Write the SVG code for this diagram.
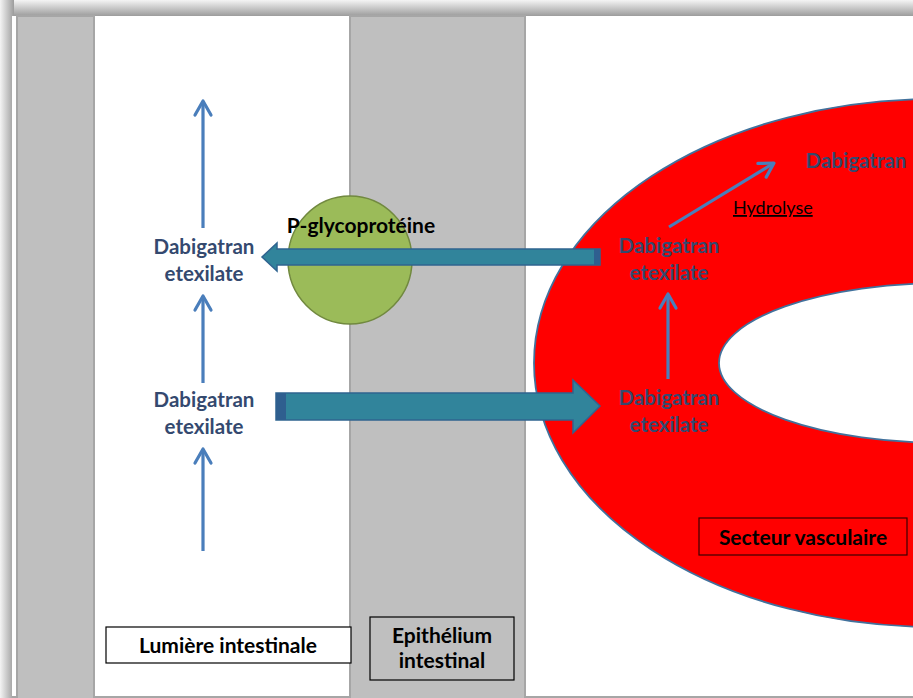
<svg xmlns="http://www.w3.org/2000/svg" width="913" height="698" viewBox="0 0 913 698">
  <defs>
    <linearGradient id="shadowTop" x1="0" y1="0" x2="0" y2="1">
      <stop offset="0" stop-color="#f4f4f4"/>
      <stop offset="1" stop-color="#9c9c9c"/>
    </linearGradient>
    <linearGradient id="shadowLeft" x1="0" y1="0" x2="1" y2="0">
      <stop offset="0" stop-color="#f4f4f4"/>
      <stop offset="1" stop-color="#9c9c9c"/>
    </linearGradient>
    <marker id="chevron" markerUnits="userSpaceOnUse" markerWidth="30" markerHeight="30" viewBox="-20 -15 30 30" refX="0" refY="0" orient="auto">
      <path d="M-14,-8 L0,0 L-14,8" fill="none" stroke="#4a7ebb" stroke-width="3.2" stroke-linejoin="round" stroke-linecap="round"/>
    </marker>
    <style>
      .mol { font-family: Lato, "Open Sans", "Liberation Sans", sans-serif; font-weight: 700; font-size: 20.5px; fill: #34496f; text-anchor: middle; }
      .lbl { font-family: Lato, "Open Sans", "Liberation Sans", sans-serif; font-weight: 700; font-size: 21px; fill: #000; text-anchor: middle; }
      .flow { stroke: #4a7ebb; stroke-width: 3.2; fill: none; marker-end: url(#chevron); }
      .strip { fill: #bfbfbf; stroke: #a6a6a6; stroke-width: 2; }
      .bigArrow { fill: #31849b; stroke: #2f6490; stroke-width: 1.5; }
      .cap { fill: #2f5f8f; }
    </style>
  </defs>

  <!-- page background and drop shadow -->
  <rect x="0" y="0" width="913" height="698" fill="#ffffff"/>
  <rect x="0" y="0" width="913" height="16" fill="url(#shadowTop)"/>
  <rect x="0" y="0" width="14" height="698" fill="url(#shadowLeft)"/>
  <rect x="12" y="16" width="901" height="682" fill="#ffffff"/>
  <line x1="12" y1="697" x2="913" y2="697" stroke="#a6a6a6" stroke-width="2"/>

  <!-- tissue bands -->
  <g id="band-left">
    <rect class="strip" x="17" y="16" width="77" height="683"/>
  </g>
  <g id="band-epithelium">
    <rect class="strip" x="350" y="16" width="175" height="683"/>
  </g>

  <!-- vascular ring -->
  <g id="vascular-ring">
    <path d="M 534,363 A 401,264 0 1,0 1336,363 A 401,264 0 1,0 534,363 Z M 719,363 A 226,80 0 1,0 1171,363 A 226,80 0 1,0 719,363 Z"
          fill="#ff0000" fill-rule="evenodd" stroke="#41719c" stroke-width="1.8"/>
  </g>

  <!-- P-glycoprotein transporter -->
  <g id="pgp">
    <ellipse cx="350" cy="260" rx="62" ry="64" fill="#9bbb59" stroke="#71893f" stroke-width="1.5"/>
  </g>

  <!-- connectors -->
  <g id="connectors">
    <line class="flow" x1="203" y1="228" x2="203" y2="101"/>
    <line class="flow" x1="203" y1="383" x2="203" y2="296"/>
    <line class="flow" x1="203" y1="551" x2="203" y2="449"/>
    <line class="flow" x1="668" y1="379" x2="668" y2="294"/>
    <line class="flow" x1="669" y1="227" x2="774" y2="163"/>

    <!-- efflux by P-gp back into the lumen -->
    <polygon class="bigArrow" points="600,249 277,249 277,243 262,257 277,271 277,265 600,265"/>
    <rect class="cap" x="594" y="249" width="6" height="16"/>

    <!-- absorption through the epithelium -->
    <polygon class="bigArrow" points="276,393 573,393 573,380 600,406 573,433 573,420 276,420"/>
    <rect class="cap" x="276" y="393" width="10" height="27"/>
  </g>

  <g id="lumen-upper">
    <text class="mol" x="204" y="254">Dabigatran</text>
    <text class="mol" x="204" y="281">etexilate</text>
  </g>
  <g id="lumen-lower">
    <text class="mol" x="204" y="407">Dabigatran</text>
    <text class="mol" x="204" y="434">etexilate</text>
  </g>
  <g id="blood-upper">
    <text class="mol" x="669" y="253">Dabigatran</text>
    <text class="mol" x="669" y="280">etexilate</text>
  </g>
  <g id="blood-lower">
    <text class="mol" x="669" y="405">Dabigatran</text>
    <text class="mol" x="669" y="432">etexilate</text>
  </g>
  <g id="dabigatran">
    <text class="mol" x="856" y="168">Dabigatran</text>
  </g>
  <g id="hydrolyse">
    <text x="733" y="214" font-family="Lato, 'Open Sans', 'Liberation Sans', sans-serif" font-size="18" fill="#000" text-decoration="underline">Hydrolyse</text>
  </g>
  <g id="pgp-label">
    <text class="lbl" x="361" y="233">P-glycoprotéine</text>
  </g>

  <!-- legend boxes -->
  <g id="box-lumiere">
    <rect x="106" y="627" width="245" height="36" fill="#ffffff" stroke="#000" stroke-width="1.2"/>
    <text class="lbl" x="228" y="653">Lumière intestinale</text>
  </g>
  <g id="box-epithelium">
    <rect x="370" y="617" width="144" height="63" fill="#bfbfbf" stroke="#000" stroke-width="1.2"/>
    <text class="lbl" x="442" y="643">Epithélium</text>
    <text class="lbl" x="442" y="668">intestinal</text>
  </g>
  <g id="box-vasculaire">
    <rect x="699" y="518" width="208" height="37" fill="#ff0000" stroke="#3a0000" stroke-width="1.2"/>
    <text class="lbl" x="803" y="545">Secteur vasculaire</text>
  </g>
</svg>
